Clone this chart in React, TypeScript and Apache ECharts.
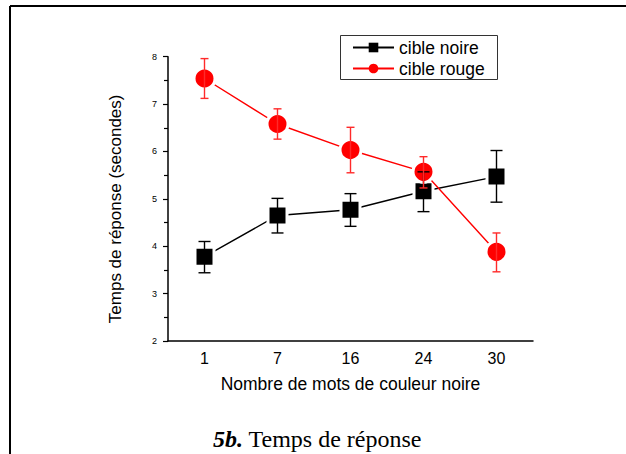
import React, { useEffect, useRef } from "react";
import * as echarts from "echarts";

const categories = ["1", "7", "16", "24", "30"];
const seriesNames = ["cible noire", "cible rouge"];
const blackMeans = [3.78, 4.65, 4.77, 5.16, 5.47];
const blackLow = [3.44, 4.28, 4.42, 4.73, 4.93];
const blackHigh = [4.1, 5.01, 5.11, 5.57, 6.02];
const redMeans = [7.54, 6.58, 6.03, 5.57, 3.88];
const redLow = [7.12, 6.26, 5.55, 5.23, 3.46];
const redHigh = [7.96, 6.9, 6.51, 5.89, 4.28];
const yMin = 2;
const yMax = 8;
const yInterval = 1;
const xAxisTitle = "Nombre de mots de couleur noire";
const yAxisTitle = "Temps de réponse (secondes)";
const captionBold = "5b.";
const captionText = " Temps de réponse";

const SANS = "Liberation Sans, Arial, sans-serif";
const SERIF = "Liberation Serif, Times New Roman, serif";

function errorSeries(name: string, low: number[], high: number[], color: string, cap: number) {
  return {
    type: "custom",
    name,
    silent: true,
    z: 5,
    data: low.map((l, i) => [i, l, high[i]]),
    encode: { x: 0, y: [1, 2] },
    renderItem: (_params: any, api: any) => {
      const x = api.value(0);
      const lo = api.coord([x, api.value(1)]);
      const hi = api.coord([x, api.value(2)]);
      const style = { stroke: color, lineWidth: 1.4, fill: "none" };
      return {
        type: "group",
        children: [
          { type: "line", shape: { x1: lo[0], y1: lo[1], x2: hi[0], y2: hi[1] }, style },
          { type: "line", shape: { x1: lo[0] - cap / 2, y1: lo[1], x2: lo[0] + cap / 2, y2: lo[1] }, style },
          { type: "line", shape: { x1: hi[0] - cap / 2, y1: hi[1], x2: hi[0] + cap / 2, y2: hi[1] }, style },
        ],
      };
    },
  };
}

export default function App() {
  const ref = useRef<HTMLDivElement>(null);
  useEffect(() => {
    if (!ref.current) return;
    const chart = echarts.init(ref.current, null, { renderer: "svg" });
    chart.setOption({
      animation: false,
      backgroundColor: "#ffffff",
      textStyle: { fontFamily: SANS, color: "#000" },
      grid: { left: 168, top: 56.7, right: 93, bottom: 113 },
      legend: {
        data: seriesNames,
        orient: "vertical",
        left: 352,
        top: 37,
        padding: 0,
        itemGap: 0,
        itemWidth: 41,
        itemHeight: 12,
        itemStyle: { borderWidth: 0 },
        textStyle: { fontFamily: SANS, fontSize: 17.5, color: "#000", lineHeight: 21 },
        selectedMode: false,
      },
      xAxis: {
        type: "category",
        data: categories,
        boundaryGap: true,
        axisLine: { lineStyle: { color: "#000", width: 1.5 } },
        axisTick: { alignWithLabel: true, length: 5, lineStyle: { color: "#000", width: 1.2 } },
        axisLabel: { fontFamily: SANS, fontSize: 16, color: "#000", margin: 9 },
        splitLine: { show: false },
        name: xAxisTitle,
        nameLocation: "middle",
        nameGap: 34,
        nameTextStyle: { fontFamily: SANS, fontSize: 17.5, color: "#000" },
      },
      yAxis: {
        type: "value",
        min: yMin,
        max: yMax,
        interval: yInterval,
        axisLine: { show: true, lineStyle: { color: "#000", width: 1.5 } },
        axisTick: { show: true, length: 5, lineStyle: { color: "#000", width: 1.2 } },
        minorTick: { show: true, splitNumber: 2, length: 4, lineStyle: { color: "#000", width: 1.2 } },
        axisLabel: { fontFamily: SANS, fontSize: 9, color: "#000", margin: 11 },
        splitLine: { show: false },
        name: yAxisTitle,
        nameLocation: "middle",
        nameGap: 44,
        nameTextStyle: { fontFamily: SANS, fontSize: 17, color: "#000", padding: [0, 20, 0, 0] },
      },
      series: [
        {
          type: "line",
          name: seriesNames[0],
          data: blackMeans,
          symbol: "rect",
          symbolSize: 19,
          z: 3,
          lineStyle: { color: "#000", width: 1.4 },
          itemStyle: { color: "#000", borderColor: "#fff", borderWidth: 3 },
          emphasis: { disabled: true },
        },
        {
          type: "line",
          name: seriesNames[1],
          data: redMeans,
          symbol: "circle",
          symbolSize: 21,
          z: 4,
          lineStyle: { color: "#ff0000", width: 1.4 },
          itemStyle: { color: "#ff0000", borderColor: "#fff", borderWidth: 3 },
          emphasis: { disabled: true },
        },
        errorSeries("err noire", blackLow, blackHigh, "#000", 12),
        errorSeries("err rouge", redLow, redHigh, "#ff2a2a", 8),
      ],
      graphic: [
        { type: "line", shape: { x1: 10, y1: 6, x2: 626, y2: 6 }, style: { stroke: "#000", lineWidth: 2 } },
        { type: "line", shape: { x1: 10, y1: 6, x2: 10, y2: 454 }, style: { stroke: "#000", lineWidth: 2 } },
        {
          type: "rect",
          shape: { x: 340.5, y: 35.5, width: 157, height: 44 },
          style: { fill: "none", stroke: "#333", lineWidth: 1 },
        },
        {
          type: "text",
          x: 213,
          y: 439,
          style: {
            text: "{b|" + captionBold + "}" + captionText,
            fontFamily: SERIF,
            fontSize: 24,
            fill: "#000",
            verticalAlign: "middle",
            align: "left",
            rich: {
              b: { fontFamily: SERIF, fontSize: 24, fontWeight: "bold", fontStyle: "italic", fill: "#000" },
            },
          },
        },
      ],
    });
    return () => chart.dispose();
  }, []);
  return (
    <div
      ref={ref}
      style={{ position: "fixed", left: 0, top: 0, width: 626, height: 454 }}
    />
  );
}
